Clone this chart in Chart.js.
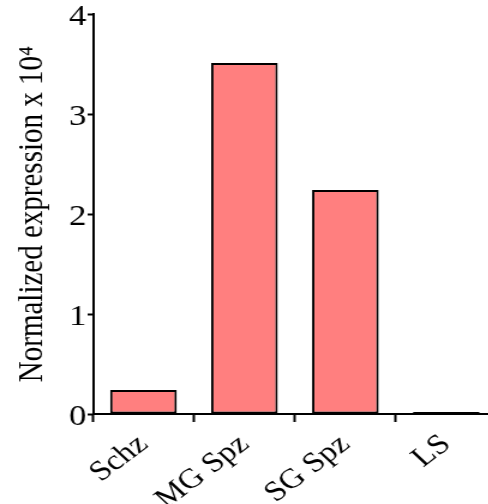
<!DOCTYPE html>
<html><head><meta charset="utf-8">
<script src="https://cdn.jsdelivr.net/npm/chart.js@4"></script>
<style>
html,body{margin:0;padding:0;background:#fff;overflow:hidden}
#wrap{width:488px;height:504px;overflow:hidden;position:relative}
#box{width:414px;height:504px;position:absolute;left:0;top:0;transform:scaleX(1.2);transform-origin:0 0}
</style></head>
<body><div id="wrap"><div id="box"><canvas id="c"></canvas></div></div>
<script>
const categories = ["Schz", "MG Spz", "SG Spz", "LS"];
const values = [0.24, 3.51, 2.24, 0.02];
const yTicks = [0, 1, 2, 3, 4];
const yTitle = "Normalized expression x 10\u2074";

Chart.defaults.font.family = 'Liberation Serif';
Chart.defaults.color = '#000';
new Chart(document.getElementById('c'), {
  type: 'bar',
  data: {
    labels: categories,
    datasets: [{
      data: values,
      backgroundColor: '#FF7F7F',
      borderColor: '#000',
      borderWidth: 2,
      borderSkipped: false,
      barPercentage: 0.66,
      categoryPercentage: 1
    }]
  },
  options: {
    responsive: true,
    maintainAspectRatio: false,
    animation: false,
    layout: { padding: { top: 14, left: 0, right: 0, bottom: 0 } },
    plugins: { legend: { display: false }, tooltip: { enabled: false } },
    scales: {
      x: {
        offset: true,
        grid: { display: true, drawOnChartArea: false, tickLength: 8, tickColor: '#000', tickWidth: 2 },
        border: { display: true, color: '#000', width: 2 },
        ticks: { color: '#000', font: { size: 28 }, minRotation: 42, maxRotation: 42, padding: 6 },
        afterFit: s => { s.height = 90; }
      },
      y: {
        min: 0, max: 4,
        afterBuildTicks: s => { s.ticks = yTicks.map(v => ({ value: v })); },
        grid: { display: true, drawOnChartArea: false, tickLength: 4.5, tickColor: '#000', tickWidth: 2 },
        border: { display: true, color: '#000', width: 2 },
        ticks: { color: '#000', font: { size: 29, lineHeight: 0.9 }, padding: 1, labelOffset: 3 },
        title: { display: true, text: yTitle, color: '#000', font: { size: 29, lineHeight: 1.2 }, padding: { top: 10, bottom: 0 } },
        afterFit: s => { s.width = 77.5; }
      }
    }
  }
});
</script></body></html>
